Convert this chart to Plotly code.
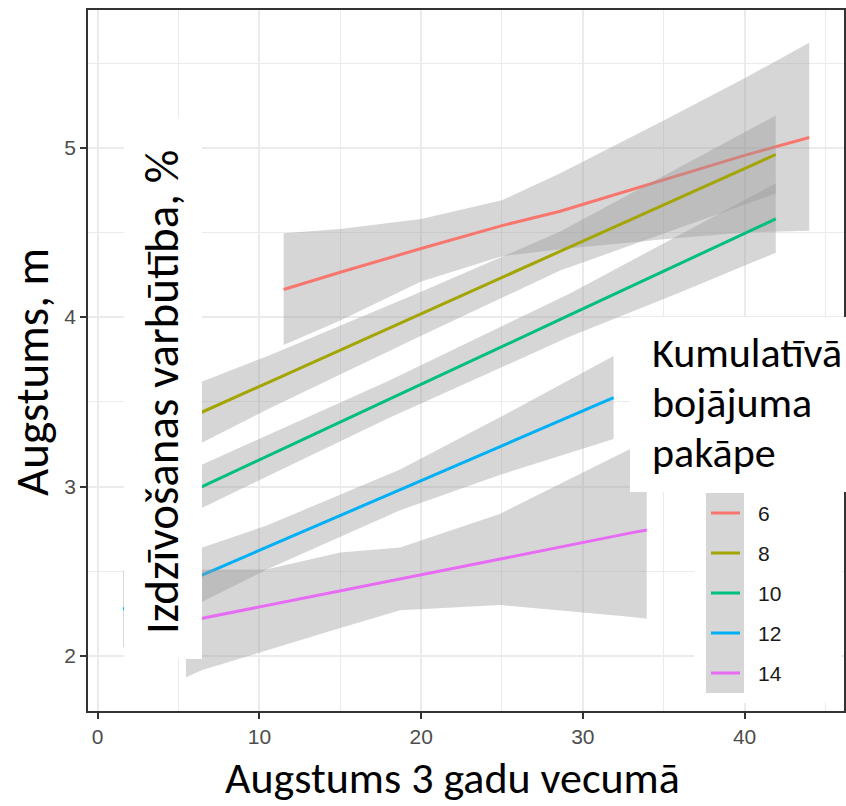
import plotly.graph_objects as go

# ---------------- data ----------------
groups = ["6", "8", "10", "12", "14"]
colors = ["#F8766D", "#A3A500", "#00BF7D", "#00B0F6", "#E76BF3"]

x_6 = [11.5, 15, 20, 25, 28.6, 35, 40, 44]
fit_6 = [4.163, 4.265, 4.405, 4.54, 4.625, 4.81, 4.955, 5.06]
hi_6 = [4.495, 4.52, 4.58, 4.69, 4.85, 5.16, 5.41, 5.62]
lo_6 = [3.835, 3.98, 4.21, 4.36, 4.40, 4.46, 4.50, 4.51]

x_8 = [5.5, 6.47, 10.67, 20, 28.6, 36, 41.93]
fit_8 = [3.40, 3.44, 3.62, 4.02, 4.39, 4.706, 4.96]
hi_8 = [3.59, 3.62, 3.777, 4.15, 4.505, 4.886, 5.19]
lo_8 = [3.21, 3.26, 3.463, 3.89, 4.275, 4.526, 4.73]

x_10 = [5.5, 6.47, 18, 29.2, 36, 41.93]
fit_10 = [2.957, 3.00, 3.514, 4.013, 4.316, 4.58]
hi_10 = [3.09, 3.13, 3.625, 4.14, 4.486, 4.79]
lo_10 = [2.82, 2.875, 3.405, 3.885, 4.146, 4.38]

x_12 = [1.57, 6.47, 10.45, 18.7, 24.9, 31.9]
fit_12 = [2.276, 2.478, 2.642, 2.98, 3.237, 3.525]
hi_12 = [2.50, 2.64, 2.77, 3.10, 3.41, 3.77]
lo_12 = [2.05, 2.32, 2.51, 2.86, 3.07, 3.28]

x_14 = [5.46, 6.47, 10.4, 15, 18.7, 24.9, 32.9, 33.95]
fit_14 = [2.203, 2.222, 2.297, 2.384, 2.455, 2.572, 2.725, 2.744]
hi_14 = [2.51, 2.51, 2.51, 2.61, 2.64, 2.84, 3.22, 3.27]
lo_14 = [1.874, 1.917, 2.03, 2.165, 2.27, 2.30, 2.232, 2.22]

x_ticks = [0, 10, 20, 30, 40]
y_ticks = [2, 3, 4, 5]

x_title = "Augstums 3 gadu vecumā"
y_title = "Augstums, m"
overlay_title = "Izdzīvošanas varbūtība, %"
legend_title_lines = ["Kumulatīvā", "bojājuma", "pakāpe"]

series = [
    (x_6, fit_6, lo_6, hi_6),
    (x_8, fit_8, lo_8, hi_8),
    (x_10, fit_10, lo_10, hi_10),
    (x_12, fit_12, lo_12, hi_12),
    (x_14, fit_14, lo_14, hi_14),
]

# ---------------- figure ----------------
W, H = 846, 806
ML, MR, MT, MB = 88, 2, 10, 95
PW, PH = W - ML - MR, H - MT - MB


def px(xp):
    return (xp - ML) / PW


def py(yp):
    return (H - MB - yp) / PH


fig = go.Figure()
for (xs, fit, lo, hi), name, col in zip(series, groups, colors):
    fig.add_trace(go.Scatter(
        x=list(xs) + list(xs)[::-1], y=list(hi) + list(lo)[::-1],
        fill="toself", fillcolor="rgba(153,153,153,0.4)",
        line=dict(width=0), mode="lines", hoverinfo="skip", showlegend=False))
    fig.add_trace(go.Scatter(
        x=xs, y=fit, mode="lines", name=name,
        line=dict(color=col, width=3), showlegend=False))

FONT_BIG = "Calibri, Carlito, Lato, sans-serif"
ARIAL = "Arial, Liberation Sans, sans-serif"
TICKFONT = dict(family=ARIAL, size=21, color="#4D4D4D")

shapes = []
annotations = []

# legend (drawn manually, ggplot style)
shapes.append(dict(type="rect", xref="paper", yref="paper", layer="above",
                   x0=px(694), x1=px(841), y0=py(703), y1=py(470),
                   fillcolor="white", line=dict(width=0)))
shapes.append(dict(type="rect", xref="paper", yref="paper", layer="above",
                   x0=px(706), x1=px(744), y0=py(693), y1=py(493),
                   fillcolor="#D6D6D6", line=dict(width=0)))
for i, (name, col) in enumerate(zip(groups, colors)):
    yc = 513 + 40 * i
    shapes.append(dict(type="line", xref="paper", yref="paper", layer="above",
                       x0=px(711), x1=px(740), y0=py(yc), y1=py(yc),
                       line=dict(color=col, width=3)))
    annotations.append(dict(text=name, xref="paper", yref="paper",
                            x=px(756), y=py(yc), xanchor="left", yanchor="middle",
                            showarrow=False,
                            font=dict(family=ARIAL, size=21, color="#1A1A1A")))

# white overlay boxes
shapes.append(dict(type="rect", xref="paper", yref="paper", layer="above",
                   x0=px(124), x1=px(202), y0=py(659), y1=py(117),
                   fillcolor="white", line=dict(width=0)))
shapes.append(dict(type="rect", xref="paper", yref="paper", layer="above",
                   x0=px(630), x1=px(846), y0=py(492), y1=py(317),
                   fillcolor="white", line=dict(width=0)))

annotations.append(dict(text=overlay_title, xref="paper", yref="paper",
                        x=px(162), y=py(392), textangle=-90,
                        xanchor="center", yanchor="middle", showarrow=False,
                        font=dict(family=FONT_BIG, size=47, color="black")))
for i, line in enumerate(legend_title_lines):
    annotations.append(dict(text=line, xref="paper", yref="paper",
                            x=px(650), y=py(352 + 50.5 * i), xanchor="left", yanchor="middle",
                            showarrow=False,
                            font=dict(family=FONT_BIG, size=42, color="black")))
annotations.append(dict(text=y_title, xref="paper", yref="paper",
                        x=px(32), y=py(372), textangle=-90,
                        xanchor="center", yanchor="middle", showarrow=False,
                        font=dict(family=FONT_BIG, size=47, color="black")))
annotations.append(dict(text=x_title, xref="paper", yref="paper",
                        x=px(452), y=py(777.5), xanchor="center", yanchor="middle",
                        showarrow=False,
                        font=dict(family=FONT_BIG, size=44, color="black")))

grid = "#EBEBEB"
fig.update_layout(
    width=W, height=H, autosize=False,
    margin=dict(l=ML, r=MR, t=MT, b=MB, pad=0),
    paper_bgcolor="white", plot_bgcolor="white",
    showlegend=False,
    shapes=shapes, annotations=annotations,
    xaxis=dict(range=[-0.60, 46.15], tickvals=x_ticks, ticktext=[str(v) for v in x_ticks],
               showgrid=True, gridcolor=grid, gridwidth=1.6, zeroline=False,
               showline=True, mirror=True, linecolor="#333333", linewidth=1.5,
               ticks="outside", ticklen=6, tickwidth=1.5, tickcolor="#333333",
               tickfont=TICKFONT, automargin=False,
               minor=dict(tick0=0, dtick=5, showgrid=True, gridcolor=grid, gridwidth=1.2)),
    yaxis=dict(range=[1.675, 5.813], tickvals=y_ticks, ticktext=[str(v) for v in y_ticks],
               showgrid=True, gridcolor=grid, gridwidth=1.6, zeroline=False,
               showline=True, mirror=True, linecolor="#333333", linewidth=1.5,
               ticks="outside", ticklen=6, tickwidth=1.5, tickcolor="#333333",
               tickfont=TICKFONT, automargin=False,
               minor=dict(tick0=0, dtick=0.5, showgrid=True, gridcolor=grid, gridwidth=1.2)),
)

fig.write_html("out.html", config={"displayModeBar": False},
               post_script="document.body.style.margin='0';document.body.style.padding='0';")
